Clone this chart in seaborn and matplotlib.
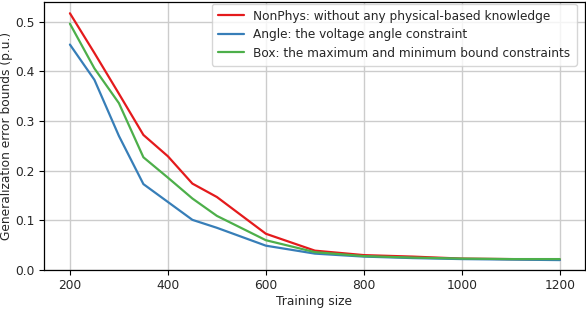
import numpy as np
import pandas as pd
import matplotlib
matplotlib.use("Agg")
import matplotlib.pyplot as plt
import seaborn as sns

# values
training_size = [200, 250, 300, 350, 400, 450, 500, 600, 700, 800, 900, 1000, 1100, 1200]
nonphys = [0.517, 0.437, 0.355, 0.272, 0.229, 0.174, 0.147, 0.073, 0.039, 0.030, 0.027, 0.023, 0.022, 0.021]
angle = [0.454, 0.383, 0.270, 0.173, 0.137, 0.101, 0.085, 0.049, 0.033, 0.027, 0.024, 0.022, 0.021, 0.020]
box = [0.496, 0.406, 0.336, 0.227, 0.186, 0.144, 0.109, 0.060, 0.036, 0.028, 0.025, 0.023, 0.022, 0.022]

labels = [
    "NonPhys: without any physical-based knowledge",
    "Angle: the voltage angle constraint",
    "Box: the maximum and minimum bound constraints",
]
colors = ["#e41a1c", "#377eb8", "#4daf4a"]

df = pd.DataFrame({
    "Training size": training_size * 3,
    "bound": nonphys + angle + box,
    "method": [labels[0]] * len(training_size) + [labels[1]] * len(training_size) + [labels[2]] * len(training_size),
})

sns.set_style("whitegrid", {"axes.edgecolor": "black", "grid.color": "#cccccc",
                            "xtick.bottom": True, "ytick.left": True})
plt.rcParams["font.family"] = ["DejaVu Sans"]

fs = 8.8
fig, ax = plt.subplots(figsize=(5.86, 3.10), dpi=100)
sns.lineplot(data=df, x="Training size", y="bound", hue="method", palette=colors,
             linewidth=1.6, ax=ax)

ax.set_xlim(147, 1251)
ax.set_ylim(0, 0.54)
ax.set_xticks([200, 400, 600, 800, 1000, 1200])
ax.set_yticks([0.0, 0.1, 0.2, 0.3, 0.4, 0.5])
ax.set_xlabel("Training size", fontsize=fs, labelpad=2)
ax.set_ylabel("Generalization error bounds (p.u.)", fontsize=fs, labelpad=1.5)
ax.tick_params(labelsize=fs, length=3.5, width=0.8, color="black", pad=3)
for s in ax.spines.values():
    s.set_linewidth(0.9)
ax.grid(True, linewidth=1.0)

leg = ax.legend(loc="upper right", bbox_to_anchor=(0.987, 0.998), borderaxespad=0.1,
                fontsize=8.7, frameon=True, handlelength=2.2, labelspacing=0.45,
                borderpad=0.5, handletextpad=0.75)
leg.get_frame().set_edgecolor("#cccccc")

plt.subplots_adjust(left=0.075, right=0.998, top=0.994, bottom=0.129)
fig.savefig("out.png", dpi=100)
